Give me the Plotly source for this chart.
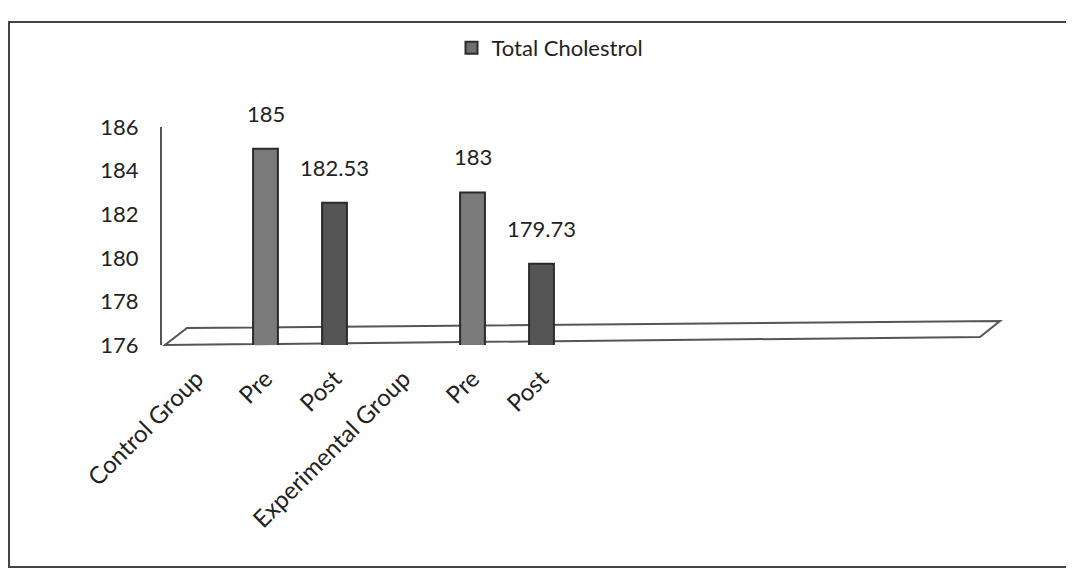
import plotly.graph_objects as go

categories = ["Control Group", "Pre", "Post", "Experimental Group", "Pre", "Post"]
values = [None, 185, 182.53, None, 183, 179.73]
series_name = "Total Cholestrol"
y_ticks = [176, 178, 180, 182, 184, 186]
bar_colors = ["#6f6f6f", "#7a7a7a", "#555555", "#6f6f6f", "#7a7a7a", "#555555"]

n_slots = 12  # chart area holds room for 12 category slots (only 6 used)
x_pos = list(range(len(categories)))

W, H = 1074, 568
OFF = 8  # page body margin offset
# target plot area on screen: x 162..990, y 127..345
L = 162 - OFF
T = 127 - OFF
pw, ph = 828, 218
R = W - L - pw
B = H - T - ph

def px(x):
    return (x - 162) / pw

def py(y):
    return (345 - y) / ph

FONT = "Lato, 'Open Sans', sans-serif"

fig = go.Figure()
fig.add_trace(go.Bar(
    x=x_pos, y=values, name=series_name,
    marker=dict(color=bar_colors, line=dict(color="#2b2b2b", width=2)),
    width=0.36,
    showlegend=True,
))

annotations = []
for xi, v in zip(x_pos, values):
    if v is None:
        continue
    annotations.append(dict(
        x=xi, y=v, xref="x", yref="y", text=f"{v:g}", showarrow=False,
        yanchor="bottom", yshift=20,
        font=dict(family=FONT, size=22, color="#222222"),
    ))

shapes = [
    # 3D floor outline
    dict(type="path", xref="paper", yref="paper",
         path=f"M {px(165)} {py(345)} L {px(980)} {py(337)} L {px(1000)} {py(321)} L {px(187)} {py(328)} Z",
         line=dict(color="#555555", width=2), fillcolor="rgba(0,0,0,0)", layer="below"),
    # outer chart border
    dict(type="rect", xref="paper", yref="paper",
         x0=px(9), x1=px(1085), y0=py(567), y1=py(22),
         line=dict(color="#444444", width=2), fillcolor="rgba(0,0,0,0)", layer="below"),
]

fig.update_layout(
    width=W, height=H,
    margin=dict(l=L, r=R, t=T, b=B, autoexpand=False),
    paper_bgcolor="white", plot_bgcolor="white",
    font=dict(family=FONT, size=22, color="#222222"),
    showlegend=True,
    legend=dict(orientation="h", x=px(550), xanchor="center", y=py(48), yanchor="middle",
                font=dict(family=FONT, size=22, color="#222222"),
                itemwidth=30, bgcolor="rgba(0,0,0,0)"),
    shapes=shapes,
    annotations=annotations,
    bargap=0.6,
)
fig.update_xaxes(
    range=[-0.5, n_slots - 0.5],
    tickmode="array", tickvals=x_pos, ticktext=categories,
    tickangle=-45, showgrid=False, zeroline=False,
    showline=False, ticks="", ticklabelstandoff=14,
    tickfont=dict(family=FONT, size=24, color="#222222"),
)
fig.update_yaxes(
    range=[176, 186], tickmode="array", tickvals=y_ticks,
    showgrid=False, zeroline=False,
    showline=True, linecolor="#555555", linewidth=2,
    ticks="", ticklabelstandoff=17,
    tickfont=dict(family=FONT, size=22, color="#222222"),
)

fig.write_html("out.html")
